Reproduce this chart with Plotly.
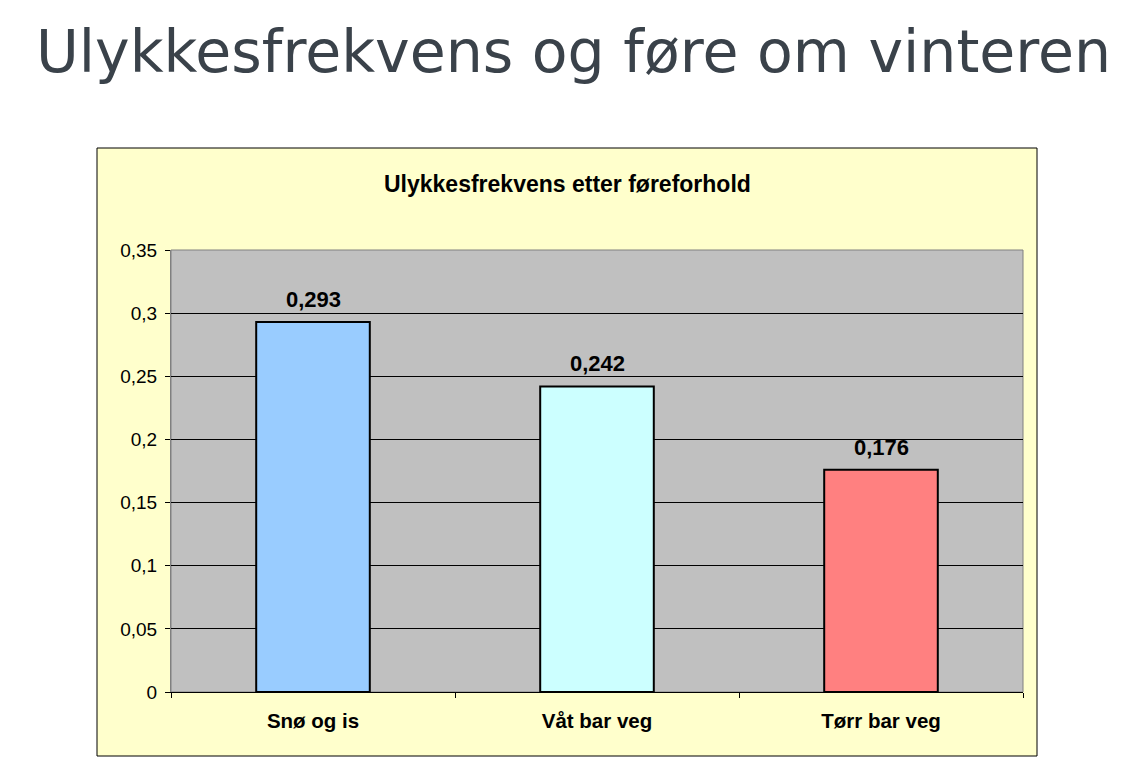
import plotly.graph_objects as go

categories = ["Snø og is", "Våt bar veg", "Tørr bar veg"]
values = [0.293, 0.242, 0.176]
bar_colors = ["#99CCFF", "#CCFFFF", "#FF8080"]
y_ticks = [0, 0.05, 0.1, 0.15, 0.2, 0.25, 0.3, 0.35]

W, H = 1148, 774
L, R, T, B = 171, 125, 250, 82

fig = go.Figure()
fig.add_trace(go.Bar(
    x=categories, y=values,
    marker=dict(color=bar_colors, line=dict(color="black", width=2)),
    width=0.4,
))

def px(xp):
    return (xp - L) / (W - L - R)
def py(yp):
    return (H - B - yp) / (H - T - B)

annotations = [
    dict(text="Ulykkesfrekvens og føre om vinteren", xref="paper", yref="paper",
         x=px(573), y=py(52), xanchor="center", yanchor="middle", showarrow=False,
         font=dict(family="DejaVu Sans", size=58.5, color="#3A424A")),
    dict(text="<b>Ulykkesfrekvens etter føreforhold</b>", xref="paper", yref="paper",
         x=px(567), y=py(184), xanchor="center", yanchor="middle", showarrow=False,
         font=dict(family="Liberation Sans, Arial", size=23, color="black")),
]
for c, v in zip(categories, values):
    lab = f"{v:.3f}".replace(".", ",")
    annotations.append(dict(
        x=c, y=v, xref="x", yref="y", text="<b>" + lab + "</b>", showarrow=False,
        xanchor="center", yanchor="bottom", yshift=8,
        font=dict(family="Liberation Sans, Arial", size=22, color="black"),
    ))

fig.update_layout(
    width=W, height=H,
    margin=dict(l=L, r=R, t=T, b=B),
    paper_bgcolor="white",
    plot_bgcolor="#C0C0C0",
    separators=", ",
    showlegend=False,
    font=dict(family="Liberation Sans, Arial", color="black", size=18),
    shapes=[
        dict(type="rect", xref="paper", yref="paper", layer="below",
             x0=px(97), x1=px(1037), y0=py(756), y1=py(148),
             fillcolor="#FFFFCC", line=dict(color="black", width=1)),
        dict(type="rect", xref="paper", yref="paper", layer="below",
             x0=0, x1=1, y0=0, y1=1,
             fillcolor="#C0C0C0", line=dict(color="#808080", width=1)),
    ],
    annotations=annotations,
)
fig.update_yaxes(
    range=[0, 0.35], tickvals=y_ticks, showgrid=True,
    gridcolor="black", gridwidth=1, ticks="outside", ticklen=5, tickcolor="black",
    showline=True, linecolor="#808080", linewidth=1, zeroline=False,
    tickfont=dict(size=19), ticklabelstandoff=4,
)
fig.update_xaxes(
    tickson="boundaries", ticks="outside", ticklen=5, tickcolor="black",
    showline=True, linecolor="black", linewidth=1,
    tickfont=dict(size=20.5, weight="bold"), ticklabelstandoff=10,
)
fig.write_html("out.html")
